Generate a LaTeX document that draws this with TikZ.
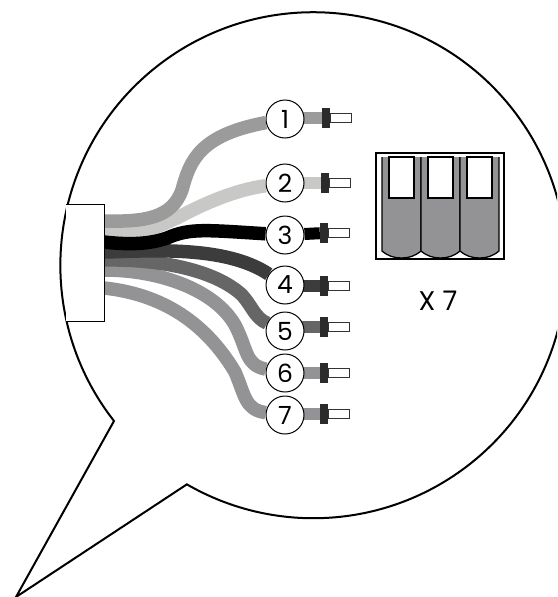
\documentclass[tikz,border=0pt]{standalone}
\usepackage{fontspec}
\setmainfont{Poppins}
\usetikzlibrary{positioning}
\usetikzlibrary{backgrounds}

\definecolor{wireone}{HTML}{9B9B9B}
\definecolor{wiretwo}{HTML}{C8C8C6}
\definecolor{wirefour}{HTML}{3C3C3C}
\definecolor{wirefive}{HTML}{666666}
\definecolor{wiresix}{HTML}{939396}
\definecolor{plugcol}{HTML}{2B2B2B}

\tikzset{
  num/.style={circle,draw,fill=white,line width=1pt,minimum size=38pt,inner sep=0pt,font=\fontsize{25}{25}\selectfont},
  wire/.style={line width=13.5pt,line join=round},
  stub/.style={line width=12pt},
  plug/.style={rectangle,fill=plugcol,minimum width=8pt,minimum height=20pt,inner sep=0pt},
  pin/.style={rectangle,draw=black!80,fill=white,line width=0.7pt,minimum width=21pt,minimum height=9pt,inner sep=0pt},
  slot/.style={draw=black,fill=wiresix,line width=1.3pt},
  window/.style={draw=black,fill=white,line width=1.3pt}
}

\begin{document}
\begin{tikzpicture}[x=1pt,y=-1pt]
	\useasboundingbox (0,0) rectangle (557,597);
	\clip (0,0) rectangle (557,597);

	% balloon
	\draw[line width=2pt,line join=miter] (114,421) arc[start angle=142,end angle=480,radius=253] -- (16,597) -- cycle;

	% cable gland
	\draw[fill=white,line width=1pt] (66,204) -- (104,204) -- (104,321) -- (66,321);

	\node[num] (n1) at (285,119) {1};
	\node[num] (n2) at (285,183) {2};
	\node[num] (n3) at (285,235) {3};
	\node[num] (n4) at (285,285) {4};
	\node[num] (n5) at (285,331) {5};
	\node[num] (n6) at (285,373) {6};
	\node[num] (n7) at (285,415) {7};

	\node[plug] (p1) at (326,118) {};
	\node[plug] (p2) at (325,183) {};
	\node[plug] (p3) at (324,233) {};
	\node[plug] (p4) at (324,286) {};
	\node[plug] (p5) at (324,327) {};
	\node[plug] (p6) at (324,373) {};
	\node[plug] (p7) at (324,414) {};

	\foreach \i in {1,...,7}
		\node[pin,right=0pt of p\i] (t\i) {};

	\coordinate (w1) at (104,221);
	\coordinate (w2) at (104,232);
	\coordinate (w3) at (104,242);
	\coordinate (w4) at (104,252);
	\coordinate (w5) at (104,260);
	\coordinate (w6) at (104,270);
	\coordinate (w7) at (104,288);

	% wires go behind the numbers
	\begin{scope}[on background layer]
		\draw[wire,wiresix] (w7) .. controls (170,295) and (210,330) .. (235,372) .. controls (245,395) and (245,410) .. (n7);
		\draw[wire,wiresix] (w6) .. controls (160,270) and (215,290) .. (235,325) .. controls (248,350) and (245,365) .. (n6);
		\draw[wire,wirefive] (w5) .. controls (160,259) and (215,270) .. (242,295) .. controls (252,306) and (255,318) .. (n5);
		\draw[wire,wirefour] (w4) .. controls (150,251) and (225,245) .. (n4);
		\draw[wire,wiretwo] (w2) .. controls (150,234) and (160,225) .. (177,218) .. controls (205,203) and (235,190) .. (n2);
		\draw[wire,black] (w3) .. controls (130,245) and (150,244) .. (167,238) .. controls (190,228) and (205,230) .. (n3);
		\draw[wire,wireone] (w1) .. controls (145,222) and (172,218) .. (182,190) .. controls (190,160) and (200,135) .. (n1);

		\draw[stub,wireone] (p1 -| n1) -- (p1);
		\draw[stub,wiretwo] (p2 -| n2) -- (p2);
		\draw[stub,black] (n3) -- (p3);
		\draw[stub,wirefour] (p4 -| n4) -- (p4);
		\draw[stub,wirefive] (p5 -| n5) -- (p5);
		\draw[stub,wiresix] (p6 -| n6) -- (p6);
		\draw[stub,wiresix] (p7 -| n7) -- (p7);
	\end{scope}

	% terminal block
	\draw[line width=1.5pt] (376,153) rectangle (504,259);
	\foreach \x in {382,421,460}{
		\draw[slot] (\x,157) -- (\x,251) .. controls (\x+6,256) and (\x+12,258) .. (\x+19.5,258) .. controls (\x+27,258) and (\x+33,256) .. (\x+39,251) -- (\x+39,157);
		\draw[window] (\x+7,157) -- (\x+7,198) -- (\x+32,198) -- (\x+32,157) -- cycle;
	}
	\node[font=\fontsize{27}{27}\selectfont] (x7) at (438,301) {X 7};
\end{tikzpicture}
\end{document}
